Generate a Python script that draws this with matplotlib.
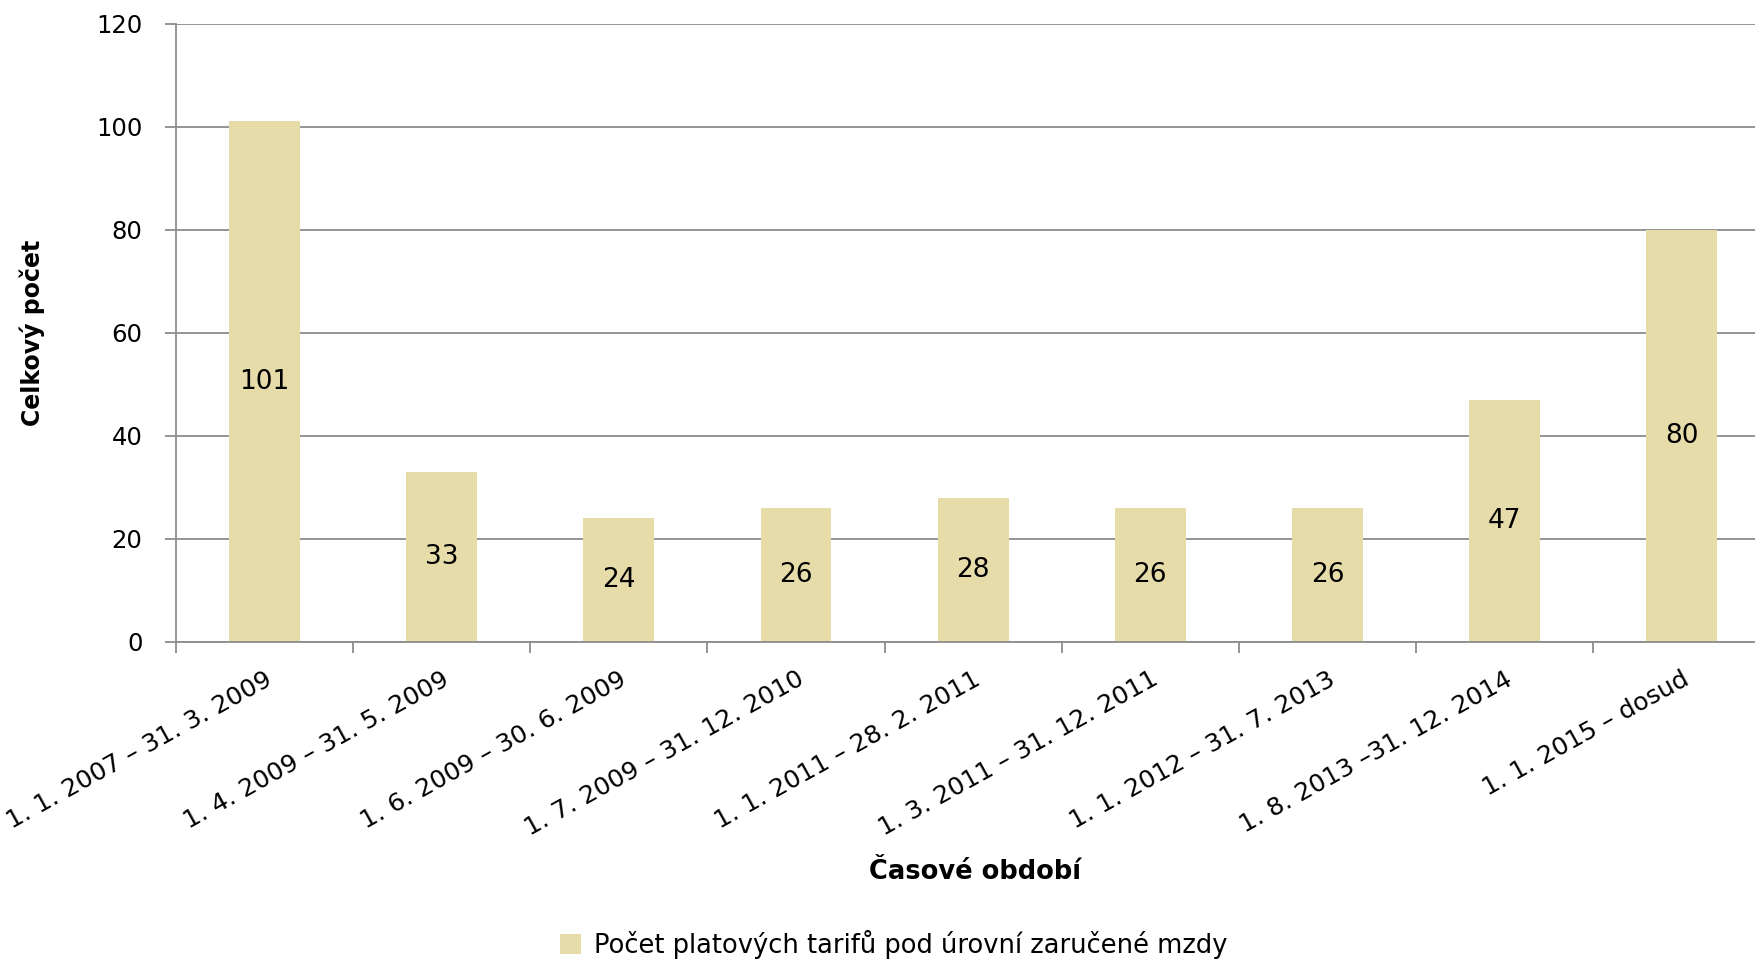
import numpy as np
import matplotlib
matplotlib.use("Agg")
import matplotlib.pyplot as plt

# data
periods = ["1. 1. 2007 – 31. 3. 2009", "1. 4. 2009 – 31. 5. 2009", "1. 6. 2009 – 30. 6. 2009",
           "1. 7. 2009 – 31. 12. 2010", "1. 1. 2011 – 28. 2. 2011", "1. 3. 2011 – 31. 12. 2011",
           "1. 1. 2012 – 31. 7. 2013", "1. 8. 2013 –31. 12. 2014", "1. 1. 2015 – dosud"]
counts = [101, 33, 24, 26, 28, 26, 26, 47, 80]
y_ticks = [0, 20, 40, 60, 80, 100, 120]
series_name = "Počet platových tarifů pod úrovní zaručené mzdy"

bar_col = "#E6DCAA"
grid_col = "#8C8C8C"

plt.rcParams['font.family'] = ['DejaVu Sans']

fig = plt.figure(figsize=(17.56, 9.61), dpi=100)
# axis runs slightly past the right edge, like the original
ax = fig.add_axes([0.1002, 0.332, 0.908, 0.6435])

x = np.arange(len(counts))
ax.bar(x, counts, width=0.4, color=bar_col, zorder=2, label=series_name)

# value labels in the middle of each bar
for xi, v in zip(x, counts):
    ax.text(xi, v / 2, str(v), ha='center', va='center', fontsize=19, zorder=3)

ax.set_xlim(-0.5, len(counts) - 0.5)
ax.set_ylim(0, 120)
ax.set_yticks(y_ticks)
ax.set_yticklabels([str(t) for t in y_ticks], fontsize=17.5)
ax.yaxis.grid(True, color=grid_col, linewidth=1.3, zorder=0)
ax.tick_params(axis='y', length=8, width=1.3, color=grid_col, pad=16)

# ticks on category boundaries, labels at centres
ax.set_xticks(np.arange(len(counts) + 1) - 0.5)
ax.set_xticklabels([])
ax.tick_params(axis='x', which='major', length=8, width=1.3, color=grid_col, direction='out')
ax.set_xticks(x, minor=True)
ax.set_xticklabels(periods, minor=True, rotation=29, ha='right', va='top',
                   rotation_mode='anchor', fontsize=18)
ax.tick_params(axis='x', which='minor', length=0, pad=18)

for s in ['top', 'right']:
    ax.spines[s].set_visible(False)
ax.spines['left'].set_color(grid_col)
ax.spines['bottom'].set_color(grid_col)
ax.spines['left'].set_linewidth(1.3)
ax.spines['bottom'].set_linewidth(1.3)

ax.set_ylabel("Celkový počet", fontsize=17, fontweight='bold')
ax.yaxis.set_label_coords(-0.082, 0.5)
fig.text(0.555, 0.093, "Časové období", ha='center', va='center', fontsize=18.5, fontweight='bold')

fig.legend(loc='center', bbox_to_anchor=(0.509, 0.017), frameon=False, fontsize=18.5,
           handlelength=0.8, handleheight=0.8, handletextpad=0.5)

fig.savefig("out.png", dpi=100)
